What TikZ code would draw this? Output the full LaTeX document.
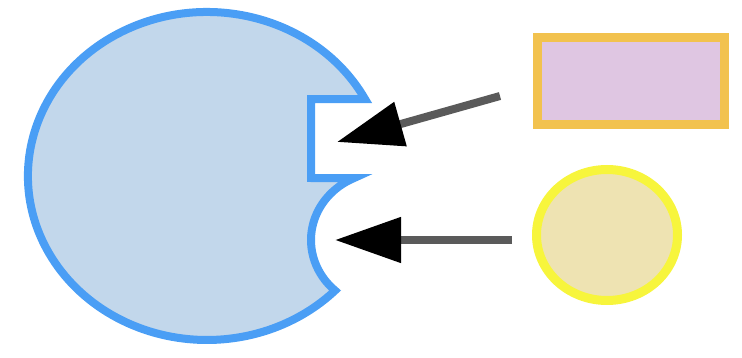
\documentclass[tikz,border=0pt]{standalone}
\usetikzlibrary{arrows.meta,shapes.geometric}
\definecolor{bigfill}{HTML}{C2D7EB}
\definecolor{bigline}{HTML}{4A9EF5}
\definecolor{rectfill}{HTML}{DFC6E2}
\definecolor{rectline}{HTML}{F2C24E}
\definecolor{circfill}{HTML}{EEE3B2}
\definecolor{circline}{HTML}{F7F53C}
\definecolor{arrline}{HTML}{5A5A5A}
\tikzset{
  holder/.style={draw=bigline, fill=bigfill, line width=8pt, line join=miter},
  piecerect/.style={rectangle, draw=rectline, fill=rectfill, line width=9pt, minimum width=187pt, minimum height=87pt, inner sep=0pt},
  piececirc/.style={ellipse, draw=circline, fill=circfill, line width=9pt, minimum width=141pt, minimum height=131pt, inner sep=0pt},
  fitarrow/.style={draw=arrline, line width=8pt, -{Triangle[length=66pt, width=44pt, color=black]}}
}
\begin{document}
\begin{tikzpicture}[x=1pt, y=1pt]
  \useasboundingbox (0,0) rectangle (742,357);
  % holder shape: ellipse with a rectangular notch and a round bite
  \path[holder] (365,258)
    arc[start angle=28, end angle=315.7, x radius=179, y radius=164]
    arc[start angle=227.9, end angle=114.3, x radius=73, y radius=68]
    -- (311,179) -- (311,258) -- cycle;
  \node[piecerect] (rect) at (631,276) {};
  \node[piececirc] (circ) at (607,122) {};
  \coordinate (rectout) at (500,261);
  \coordinate (notch) at (337,215);
  \coordinate (circout) at (512,117);
  \coordinate (bite) at (335,117);
  \draw[fitarrow] (rectout) -- (notch);
  \draw[fitarrow] (circout) -- (bite);
\end{tikzpicture}
\end{document}
